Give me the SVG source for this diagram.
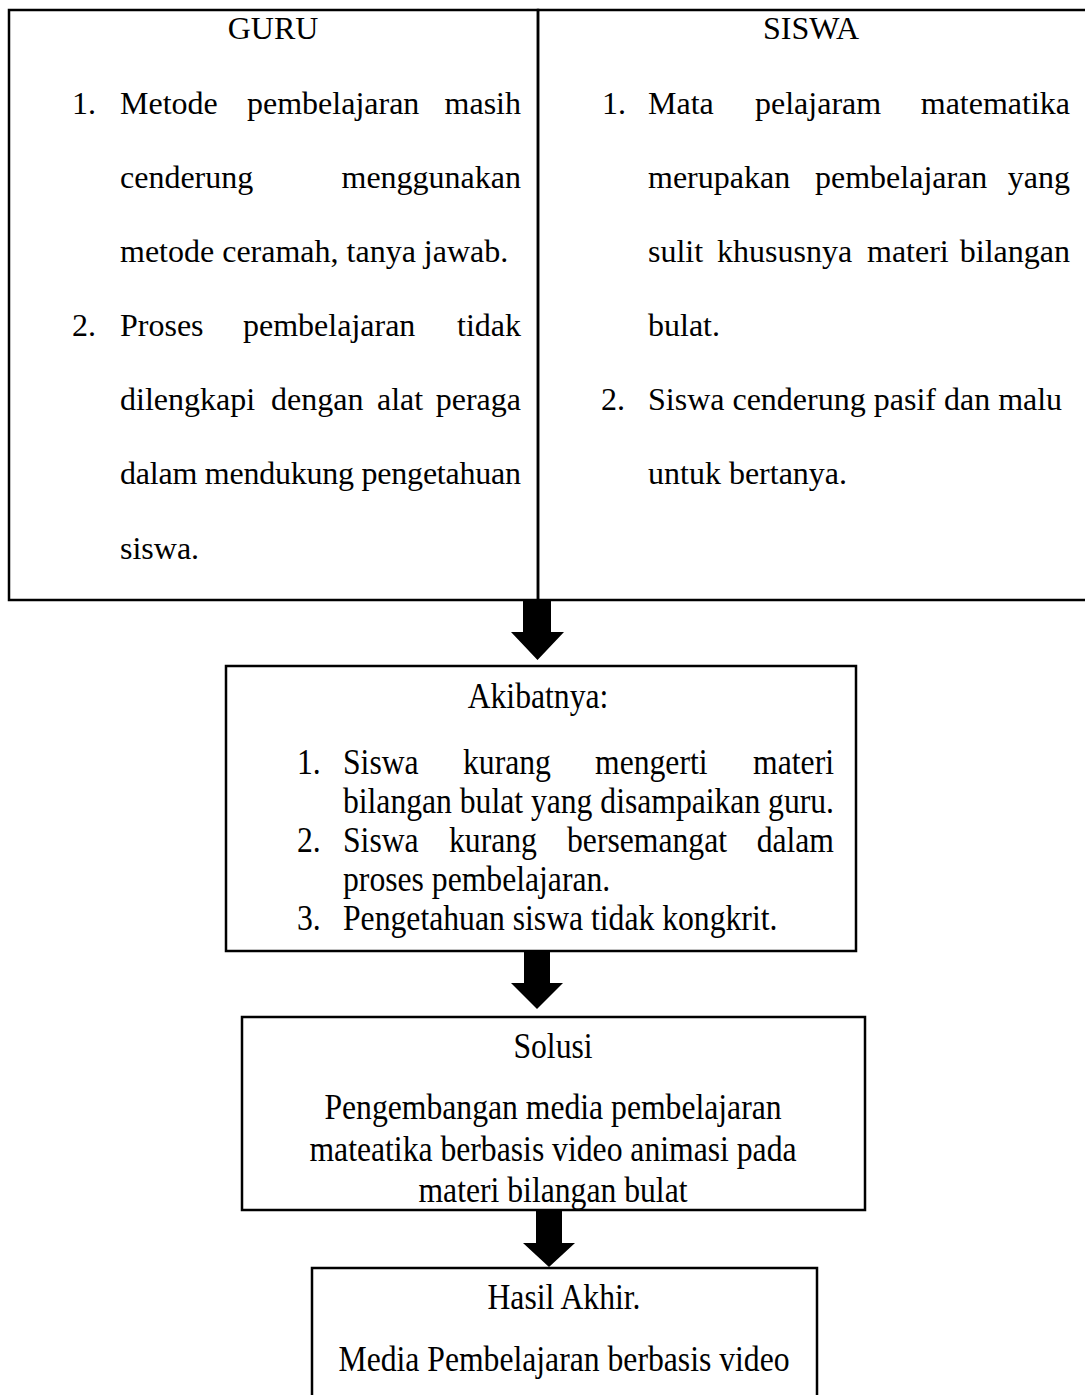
<svg xmlns="http://www.w3.org/2000/svg" width="1085" height="1395" viewBox="0 0 1085 1395" font-family="'Liberation Serif', 'Times New Roman', serif">
<style>
text{font-family:'Liberation Serif','Times New Roman',serif;font-size:32px;fill:#000}
.t2{font-size:36px}
.c{text-anchor:middle}
.e{text-anchor:end}
.box{fill:none;stroke:#000;stroke-width:2.5}
.arr{fill:#000;stroke:none}
</style>
<rect x="0" y="0" width="1085" height="1395" fill="#fff"/>
<g id="guru">
<rect class="box" x="9" y="10" width="529" height="590"/>
<text class="c" x="273" y="39">GURU</text>
<text x="72" y="114">1.</text>
<text y="114"><tspan x="120">Metode</tspan><tspan x="247">pembelajaran</tspan></text>
<text class="e" x="521" y="114">masih</text>
<text x="120" y="188">cenderung</text>
<text class="e" x="521" y="188">menggunakan</text>
<text x="120" y="262">metode ceramah, tanya jawab.</text>
<text x="72" y="336">2.</text>
<text y="336"><tspan x="120">Proses</tspan><tspan x="243">pembelajaran</tspan></text>
<text class="e" x="521" y="336">tidak</text>
<text y="410"><tspan x="120">dilengkapi</tspan><tspan x="271">dengan</tspan><tspan x="377">alat</tspan></text>
<text class="e" x="521" y="410">peraga</text>
<text x="120" y="484" textLength="401" lengthAdjust="spacing">dalam mendukung pengetahuan</text>
<text x="120" y="559">siswa.</text>
</g>
<g id="siswa">
<rect class="box" x="538" y="10" width="560" height="590"/>
<text class="c" x="811" y="39">SISWA</text>
<text x="602" y="114">1.</text>
<text y="114"><tspan x="648">Mata</tspan><tspan x="755">pelajaram</tspan></text>
<text class="e" x="1070" y="114">matematika</text>
<text y="188"><tspan x="648">merupakan</tspan><tspan x="815">pembelajaran</tspan></text>
<text class="e" x="1070" y="188">yang</text>
<text y="262"><tspan x="648">sulit</tspan><tspan x="717">khususnya</tspan><tspan x="867">materi</tspan></text>
<text class="e" x="1070" y="262">bilangan</text>
<text x="648" y="336">bulat.</text>
<text x="601" y="410">2.</text>
<text x="648" y="410">Siswa cenderung pasif dan malu</text>
<text x="648" y="484">untuk bertanya.</text>
</g>
<g id="akibatnya">
<rect class="box" x="226" y="666" width="630" height="285"/>
<text class="t2 c" transform="translate(538,708) scale(0.88,1)">Akibatnya:</text>
<text class="t2" transform="translate(297,774) scale(0.88,1)">1.</text>
<text class="t2" transform="translate(343,774) scale(0.88,1)">Siswa</text>
<text class="t2" transform="translate(463,774) scale(0.88,1)">kurang</text>
<text class="t2" transform="translate(595,774) scale(0.88,1)">mengerti</text>
<text class="t2 e" transform="translate(834,774) scale(0.88,1)">materi</text>
<text class="t2" transform="translate(343,813) scale(0.88,1)" textLength="558" lengthAdjust="spacing">bilangan bulat yang disampaikan guru.</text>
<text class="t2" transform="translate(297,852) scale(0.88,1)">2.</text>
<text class="t2" transform="translate(343,852) scale(0.88,1)">Siswa</text>
<text class="t2" transform="translate(449,852) scale(0.88,1)">kurang</text>
<text class="t2" transform="translate(567,852) scale(0.88,1)">bersemangat</text>
<text class="t2 e" transform="translate(834,852) scale(0.88,1)">dalam</text>
<text class="t2" transform="translate(343,891) scale(0.88,1)">proses pembelajaran.</text>
<text class="t2" transform="translate(297,930) scale(0.88,1)">3.</text>
<text class="t2" transform="translate(343,930) scale(0.88,1)">Pengetahuan siswa tidak kongkrit.</text>
</g>
<g id="solusi">
<rect class="box" x="242" y="1017" width="623" height="193"/>
<text class="t2 c" transform="translate(553,1058) scale(0.88,1)">Solusi</text>
<text class="t2 c" transform="translate(553,1119) scale(0.88,1)">Pengembangan media pembelajaran</text>
<text class="t2 c" transform="translate(553,1161) scale(0.88,1)">mateatika berbasis video animasi pada</text>
<text class="t2 c" transform="translate(553,1202) scale(0.88,1)">materi bilangan bulat</text>
</g>
<g id="hasil">
<rect class="box" x="312" y="1268" width="505" height="140"/>
<text class="t2 c" transform="translate(564,1309) scale(0.88,1)">Hasil Akhir.</text>
<text class="t2 c" transform="translate(564,1371) scale(0.88,1)">Media Pembelajaran berbasis video</text>
</g>
<g id="connectors">
<polygon class="arr" points="523,600 551,600 551,632 564,632 537.5,660 511,632 523,632"/>
<polygon class="arr" points="524,952 550,952 550,983 563,983 537,1009 511,983 524,983"/>
<polygon class="arr" points="536,1211 562,1211 562,1243 575,1243 549,1267 523,1243 536,1243"/>
</g>
</svg>
